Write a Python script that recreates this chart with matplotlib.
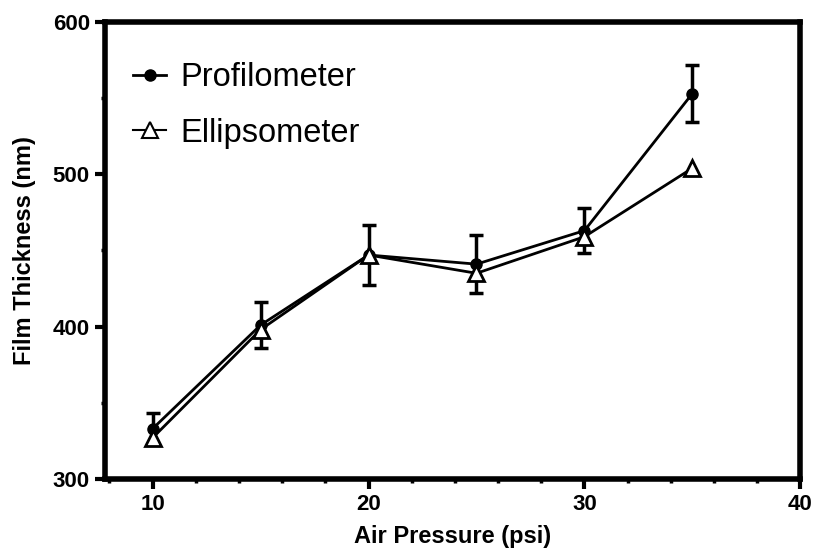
import matplotlib.pyplot as plt
from matplotlib.lines import Line2D
from matplotlib.ticker import MultipleLocator

plt.rcParams['font.family'] = ['Liberation Sans', 'DejaVu Sans']

# air pressure (psi)
pressure = [10, 15, 20, 25, 30, 35]
# film thickness (nm)
profil = [333, 401, 447, 441, 463, 553]
profil_err = [10, 15, 20, 19, 15, 19]
ellips = [327, 398, 447, 435, 459, 504]

fig = plt.figure(figsize=(8.15, 5.48), dpi=100)
ax = fig.add_axes([0.129, 0.126, 0.853, 0.834])

ax.errorbar(pressure, profil, yerr=profil_err, color='black', lw=2,
            marker='o', markersize=8, elinewidth=2.5, capsize=5, capthick=2.5,
            zorder=3)
ax.plot(pressure, ellips, color='black', lw=2, marker='^', markersize=11,
        markerfacecolor='white', markeredgewidth=2, zorder=4)

ax.set_xlim(7.8, 40)
ax.set_ylim(300, 600)
ax.xaxis.set_major_locator(MultipleLocator(10))
ax.xaxis.set_minor_locator(MultipleLocator(2))
ax.yaxis.set_major_locator(MultipleLocator(100))
ax.yaxis.set_minor_locator(MultipleLocator(50))

for s in ax.spines.values():
    s.set_linewidth(4)

ax.tick_params(which='major', direction='out', length=7, width=3,
               labelsize=16, pad=4)
ax.tick_params(which='minor', direction='out', length=3, width=2.5)
for lab in ax.get_xticklabels() + ax.get_yticklabels():
    lab.set_fontweight('bold')

ax.set_xlabel('Air Pressure (psi)', fontsize=17, fontweight='bold', labelpad=7)
ax.set_ylabel('Film Thickness (nm)', fontsize=17, fontweight='bold', labelpad=12)

handles = [
    Line2D([], [], color='black', lw=2, marker='o', markersize=8),
    Line2D([], [], color='black', lw=1.5, marker='^', markersize=11,
           markerfacecolor='white', markeredgewidth=1.5),
]
ax.legend(handles, ['Profilometer', 'Ellipsometer'], loc='upper left',
          bbox_to_anchor=(0.022, 0.94), borderaxespad=0, frameon=False,
          fontsize=23.5, handlelength=1.0, handletextpad=0.45, labelspacing=0.75)

fig.savefig('out.png', dpi=100)
